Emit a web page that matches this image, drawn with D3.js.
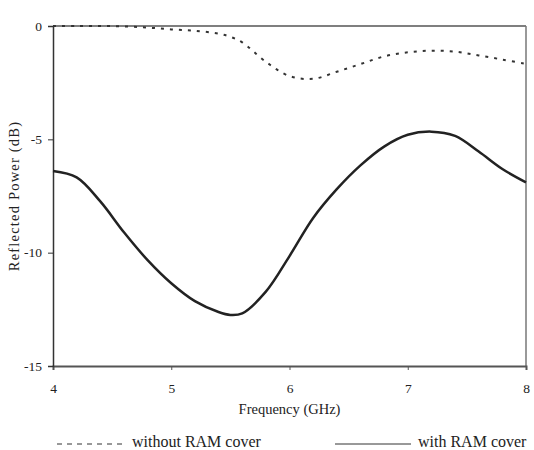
<!DOCTYPE html>
<html>
<head>
<meta charset="utf-8">
<script src="https://cdn.jsdelivr.net/npm/d3@7"></script>
<style>
  body { margin: 0; background: #fff; }
  text { font-family: "Liberation Serif", "Times New Roman", serif; fill: #222; }
</style>
</head>
<body>
<div id="chart"></div>
<script>
// frequency points (GHz)
let freq = [4.0, 4.2, 4.4, 4.6, 4.8, 5.0, 5.2, 5.4, 5.5, 5.6, 5.8, 6.0, 6.2, 6.4, 6.6, 6.8, 7.0, 7.2, 7.4, 7.6, 7.8, 8.0];
// reflected power, dB
let withoutCover = [0, 0, 0, -0.02, -0.07, -0.15, -0.21, -0.34, -0.48, -0.72, -1.58, -2.21, -2.33, -2.02, -1.68, -1.34, -1.16, -1.09, -1.13, -1.30, -1.48, -1.67];
let withCover = [-6.40, -6.68, -7.74, -9.10, -10.33, -11.35, -12.14, -12.62, -12.75, -12.68, -11.72, -10.15, -8.47, -7.20, -6.15, -5.32, -4.80, -4.66, -4.85, -5.54, -6.31, -6.90];
let xTicks = [4, 5, 6, 7, 8];
let yTicks = [0, -5, -10, -15];
let seriesNames = ["without RAM cover", "with RAM cover"];

let width = 534, height = 450,
    margin = {top: 26, right: 8, bottom: 84, left: 53},
    plotW = width - margin.left - margin.right,
    plotH = height - margin.top - margin.bottom;

let svg = d3.select("#chart").append("svg")
    .attr("width", width)
    .attr("height", height);

let g = svg.append("g")
    .attr("transform", "translate(" + margin.left + "," + margin.top + ")");

let xScale = d3.scaleLinear().domain([4, 8]).range([0, plotW]);
let yScale = d3.scaleLinear().domain([-15, 0]).range([plotH, 0]);

// frame: top and right
g.append("line").attr("x1", 0).attr("x2", plotW).attr("y1", 0).attr("y2", 0)
    .attr("stroke", "#555").attr("stroke-width", 1.5);
g.append("line").attr("x1", plotW).attr("x2", plotW).attr("y1", 0).attr("y2", plotH)
    .attr("stroke", "#777").attr("stroke-width", 1.5);

// axes (plain hyphen for minus, like the original)
let xAxis = d3.axisBottom(xScale).tickValues(xTicks).tickSize(4).tickPadding(13)
    .tickFormat(function(d) { return String(d); });
let yAxis = d3.axisLeft(yScale).tickValues(yTicks).tickSize(5).tickPadding(6)
    .tickFormat(function(d) { return String(d); });

let xAxis_g = g.append("g")
    .attr("transform", "translate(0," + plotH + ")")
    .call(xAxis);
xAxis_g.select(".domain").attr("stroke", "#555").attr("stroke-width", 2);
xAxis_g.selectAll(".tick line").attr("stroke", "#555");
xAxis_g.selectAll(".tick text").attr("font-size", 13.5).attr("fill", "#222");

let yAxis_g = g.append("g").call(yAxis);
yAxis_g.select(".domain").attr("stroke", "#333").attr("stroke-width", 1.5);
yAxis_g.selectAll(".tick line").attr("stroke", "#333");
yAxis_g.selectAll(".tick text").attr("font-size", 13.5).attr("fill", "#222");

// axis titles
svg.append("text")
    .attr("x", margin.left + plotW / 2)
    .attr("y", 414)
    .attr("text-anchor", "middle")
    .attr("font-size", 14.5)
    .text("Frequency (GHz)");

svg.append("text")
    .attr("transform", "translate(19," + (margin.top + plotH / 2) + ") rotate(-90)")
    .attr("text-anchor", "middle")
    .attr("font-size", 14.5)
    .attr("letter-spacing", 1.2)
    .text("Reflected Power (dB)");

// lines
let line = d3.line()
    .x(function(d) { return xScale(d[0]); })
    .y(function(d) { return yScale(d[1]); })
    .curve(d3.curveCatmullRom.alpha(0.5));

g.append("path")
    .datum(d3.zip(freq, withoutCover))
    .attr("fill", "none")
    .attr("stroke", "#333")
    .attr("stroke-width", 2)
    .attr("stroke-dasharray", "3,6")
    .attr("d", line);

g.append("path")
    .datum(d3.zip(freq, withCover))
    .attr("fill", "none")
    .attr("stroke", "#222")
    .attr("stroke-width", 2.5)
    .attr("d", line);

// legend
svg.append("line").attr("x1", 57).attr("x2", 124).attr("y1", 444).attr("y2", 444)
    .attr("stroke", "#333").attr("stroke-width", 1).attr("stroke-dasharray", "5,5");
svg.append("text").attr("x", 132).attr("y", 447).attr("font-size", 16).text(seriesNames[0]);

svg.append("line").attr("x1", 335).attr("x2", 411).attr("y1", 444).attr("y2", 444)
    .attr("stroke", "#333").attr("stroke-width", 1);
svg.append("text").attr("x", 418).attr("y", 447).attr("font-size", 16).text(seriesNames[1]);
</script>
</body>
</html>
